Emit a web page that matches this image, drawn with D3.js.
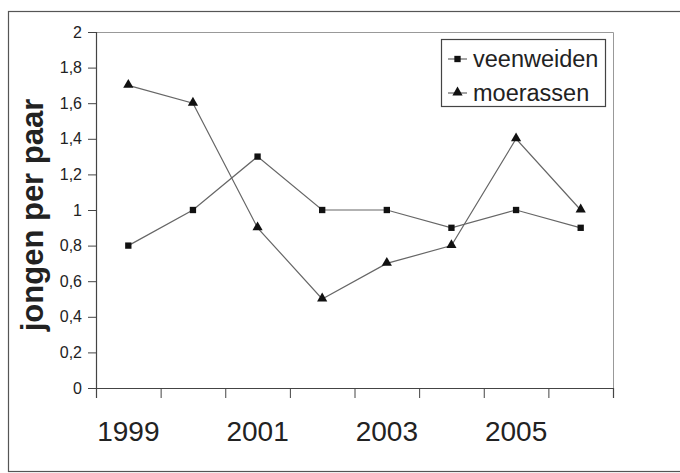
<!DOCTYPE html>
<html>
<head>
<meta charset="utf-8">
<script src="https://cdn.jsdelivr.net/npm/d3@7"></script>
<style>
  html, body { margin: 0; padding: 0; background: #fff; }
  svg { display: block; font-family: "Liberation Sans", Arial, sans-serif; }
</style>
</head>
<body>
<svg id="chart" width="680" height="473"></svg>
<script>
const years = ["1999", "2000", "2001", "2002", "2003", "2004", "2005", "2006"];
const labeledYears = ["1999", "2001", "2003", "2005"];
const veenweiden = [0.8, 1.0, 1.3, 1.0, 1.0, 0.9, 1.0, 0.9];
const moerassen = [1.7, 1.6, 0.9, 0.5, 0.7, 0.8, 1.4, 1.0];
const yTicks = [0, 0.2, 0.4, 0.6, 0.8, 1, 1.2, 1.4, 1.6, 1.8, 2];
const seriesNames = ["veenweiden", "moerassen"];
const yTitle = "jongen per paar";

const svg = d3.select("#chart");
const L = 96, R = 613, T = 32, B = 388;

// outer frame
svg.append("rect").attr("x", 8.5).attr("y", 11.5).attr("width", 700).attr("height", 460)
  .attr("fill", "#fff").attr("stroke", "#555").attr("stroke-width", 1.2);

const x = d3.scaleBand().domain(years).range([L, R]).padding(0);
const xEdge = d3.scaleLinear().domain([0, years.length]).range([L, R]);
const y = d3.scaleLinear().domain([0, 2]).range([B, T]);

// plot frame (top & right)
svg.append("path")
  .attr("d", `M${L},${T + 0.5}H${R + 0.5}V${B}`)
  .attr("fill", "none").attr("stroke", "#999").attr("stroke-width", 1);

// y axis
const fmt = d => String(+d.toFixed(1)).replace(".", ",");
const yAxis = svg.append("g").attr("transform", `translate(${L},0)`)
  .call(d3.axisLeft(y).tickValues(yTicks).tickFormat(fmt).tickSize(8).tickPadding(6));
yAxis.select(".domain").attr("stroke", "#444").attr("stroke-width", 1.2);
yAxis.selectAll(".tick line").attr("stroke", "#444");
yAxis.selectAll("text").attr("font-size", 16).attr("fill", "#222")
  .attr("font-family", "Liberation Sans, Arial, sans-serif");

// x axis ticks (at category edges)
const xTicks = svg.append("g").attr("transform", `translate(0,${B})`)
  .call(d3.axisBottom(xEdge).tickValues(d3.range(years.length + 1)).tickFormat("").tickSize(10));
xTicks.select(".domain").attr("stroke", "#444").attr("stroke-width", 1.2);
xTicks.selectAll(".tick line").attr("stroke", "#444");

// x labels
const xLab = svg.append("g").attr("transform", `translate(0,${B})`)
  .call(d3.axisBottom(x).tickValues(labeledYears).tickSize(0).tickPadding(33));
xLab.select(".domain").remove();
xLab.selectAll("text").attr("font-size", 28).attr("fill", "#222")
  .attr("font-family", "Liberation Sans, Arial, sans-serif");

// y title
svg.append("text")
  .attr("transform", `translate(43,215) rotate(-90)`)
  .attr("text-anchor", "middle")
  .attr("font-size", 31).attr("font-weight", "bold").attr("fill", "#222")
  .text(yTitle);

// lines
const cx = (d, i) => x(years[i]) + x.bandwidth() / 2;
const line = d3.line().x((d, i) => cx(d, i)).y(d => y(d));
const allSeries = [veenweiden, moerassen];
allSeries.forEach(s => {
  svg.append("path").datum(s).attr("d", line)
    .attr("fill", "none").attr("stroke", "#666").attr("stroke-width", 1.2);
});

const sq = d3.symbol().type(d3.symbolSquare).size(40);
const tri = d3.symbol().type(d3.symbolTriangle).size(45);
svg.append("g").selectAll("path").data(veenweiden).join("path")
  .attr("transform", (d, i) => `translate(${cx(d, i)},${y(d)})`)
  .attr("d", sq).attr("fill", "#111");
svg.append("g").selectAll("path").data(moerassen).join("path")
  .attr("transform", (d, i) => `translate(${cx(d, i)},${y(d) - 0.5})`)
  .attr("d", tri).attr("fill", "#111");

// legend
const lg = svg.append("g");
lg.append("rect").attr("x", 441.5).attr("y", 39.5).attr("width", 164).attr("height", 67)
  .attr("fill", "#fff").attr("stroke", "#444").attr("stroke-width", 1.2);
const symbols = [sq, tri];
seriesNames.forEach((name, i) => {
  const ly = 59 + i * 34;
  lg.append("line").attr("x1", 448).attr("x2", 467).attr("y1", ly).attr("y2", ly)
    .attr("stroke", "#666").attr("stroke-width", 1.2);
  lg.append("path").attr("transform", `translate(457.5,${ly - (i ? 0.5 : 0)})`)
    .attr("d", symbols[i]).attr("fill", "#111");
  lg.append("text").attr("x", 473).attr("y", ly + 8).attr("font-size", 23.5)
    .attr("fill", "#222").text(name);
});
</script>
</body>
</html>
